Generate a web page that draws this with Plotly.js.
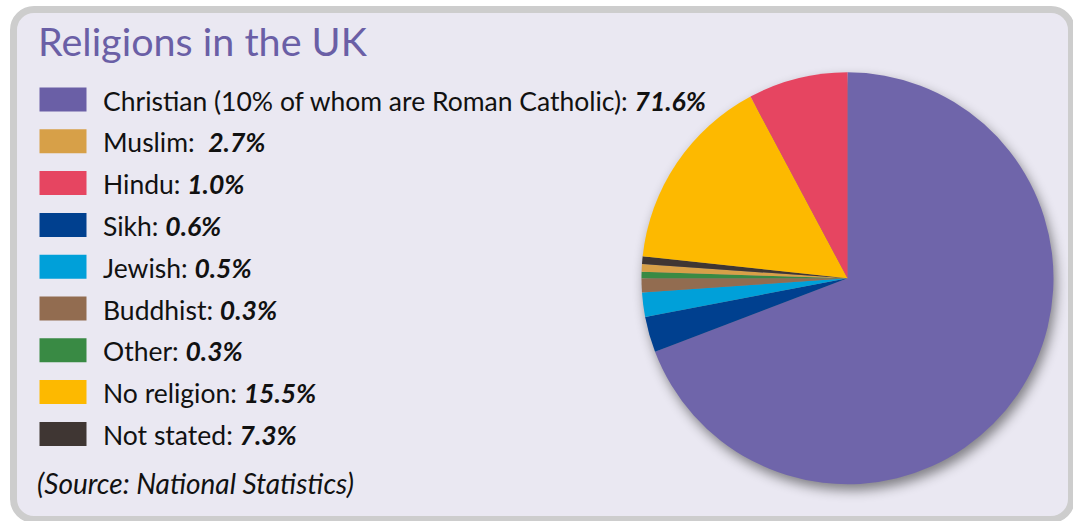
<!DOCTYPE html>
<html>
<head>
<meta charset="utf-8">
<script src="https://cdn.plot.ly/plotly-3.0.1.min.js"></script>
<style>
  html, body { margin: 0; padding: 0; background: #ffffff; overflow: hidden; }
  #frame {
    position: absolute; left: 10px; top: 6px; width: 1051px; height: 503px;
    border: 7px solid #cdcdcd; border-radius: 24px; background: #eae8f2;
  }
  #chart { position: absolute; left: 0; top: 0; width: 1073px; height: 521px; }
</style>
</head>
<body>
<div id="frame"></div>
<div id="chart"></div>
<script>
// ---- Data ----
const titleText = 'Religions in the UK';
const legendLabels = ['Christian (10% of whom are Roman Catholic):', 'Muslim:\u00a0', 'Hindu:', 'Sikh:', 'Jewish:', 'Buddhist:', 'Other:', 'No religion:', 'Not stated:'];
const legendValues = [71.6, 2.7, 1.0, 0.6, 0.5, 0.3, 0.3, 15.5, 7.3];
const legendColors = ['#6a5fa6', '#d7a048', '#e64561', '#00408f', '#00a0d9', '#926c50', '#398a44', '#fdb900', '#3f3633'];
const sourceText = '(Source: National Statistics)';
// Pie slices as drawn (clockwise from 12 o'clock)
const pieValues = [69.2, 2.8, 1.9, 1.1, 0.5, 0.6, 0.6, 15.5, 7.8];
const pieColors = ['#6f65aa', '#00408f', '#00a0d9', '#926c50', '#398a44', '#d7a048', '#3f3633', '#fdb900', '#e64561'];

// ---- Layout helpers ----
const W = 1073, H = 521;
const px = x => x / W;
const py = y => 1 - y / H;

const rowY0 = 99.5, rowStep = 41.8;
const shapes = [], annotations = [];
legendLabels.forEach((lab, i) => {
  const cy = rowY0 + i * rowStep;
  shapes.push({
    type: 'rect', xref: 'paper', yref: 'paper',
    x0: px(39.5), x1: px(86.5), y0: py(cy + 12), y1: py(cy - 12),
    fillcolor: legendColors[i], line: { width: 0 }
  });
  annotations.push({
    xref: 'paper', yref: 'paper', x: px(101), y: py(cy + 1),
    xanchor: 'left', yanchor: 'middle', showarrow: false,
    text: lab + ' <b><i>' + legendValues[i].toFixed(1) + '%</i></b>',
    font: { family: 'Lato, sans-serif', size: 26.5, color: '#111111' }
  });
});
annotations.push({
  xref: 'paper', yref: 'paper', x: px(35), y: py(483),
  xanchor: 'left', yanchor: 'middle', showarrow: false,
  text: '<i>' + sourceText + '</i>',
  font: { family: 'Lato, sans-serif', size: 28, color: '#111111' }
});

const cx = 847.5, cyPie = 278.3, r = 206;
const trace = {
  type: 'pie',
  values: pieValues,
  marker: { colors: pieColors, line: { width: 0 } },
  sort: false,
  direction: 'clockwise',
  rotation: 0,
  textinfo: 'none',
  hoverinfo: 'skip',
  showlegend: false,
  domain: { x: [px(cx - r), px(cx + r)], y: [py(cyPie + r), py(cyPie - r)] }
};

const layout = {
  width: W, height: H,
  margin: { l: 0, r: 0, t: 0, b: 0 },
  paper_bgcolor: 'rgba(0,0,0,0)',
  plot_bgcolor: 'rgba(0,0,0,0)',
  title: {
    text: titleText, xref: 'paper', yref: 'paper',
    x: px(38), xanchor: 'left', y: py(42), yanchor: 'middle',
    font: { family: 'Lato, sans-serif', size: 39.5, color: '#6a5fa6' }
  },
  shapes: shapes,
  annotations: annotations
};

Plotly.newPlot('chart', [trace], layout, { displayModeBar: false, staticPlot: true }).then(() => {
  const pl = document.querySelector('#chart .pielayer');
  if (pl) pl.style.filter = 'drop-shadow(3px 6px 6px rgba(0,0,0,0.45))';
});
</script>
</body>
</html>
